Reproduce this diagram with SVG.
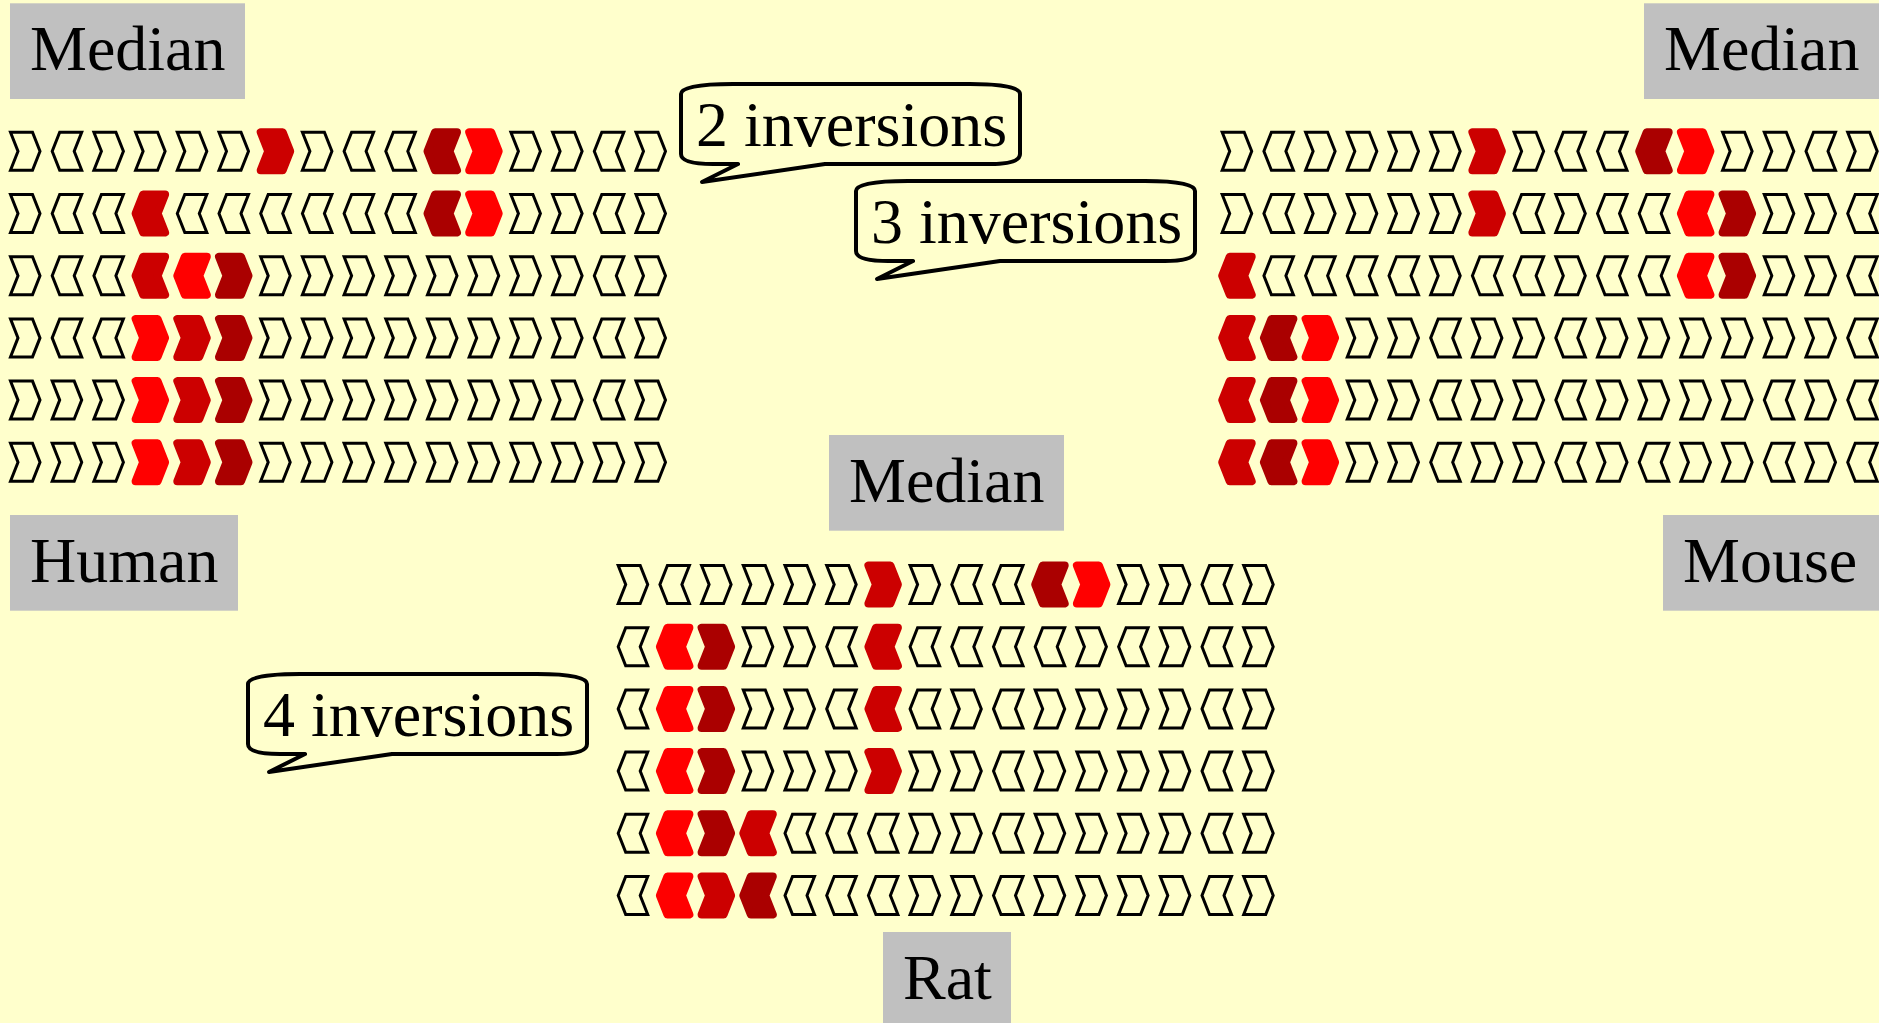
<svg xmlns="http://www.w3.org/2000/svg" xmlns:xlink="http://www.w3.org/1999/xlink" width="1879" height="1023" viewBox="0 0 1879 1023">
<style>
.o{fill:none;stroke:#000;stroke-width:3;stroke-linejoin:miter}
.r{fill:#FF0000;stroke:#FF0000;stroke-width:8;stroke-linejoin:round}
.m{fill:#CC0000;stroke:#CC0000;stroke-width:8;stroke-linejoin:round}
.d{fill:#AA0000;stroke:#AA0000;stroke-width:8;stroke-linejoin:round}
.box{fill:#C0C0C0}
.lbl{font-family:"Liberation Serif","Times New Roman",serif;font-size:64px;fill:#000}
.bub{fill:#FFFFCC;stroke:#000;stroke-width:4;stroke-linejoin:round}
</style>
<defs>
<path id="R" d="M1.5,-19H23.5L31,0L23.5,19H1.5L9,0Z"/>
<path id="L" d="M1.5,0L9,-19H31L23.5,0L31,19H9Z"/>
<path id="bubble" d="M52,0H289Q339,0 339,10V70Q339,80 309,80H144L21,98L57,80H32Q0,80 0,70V10Q0,0 52,0Z"/>
</defs>
<rect width="1879" height="1023" fill="#FFFFCC"/>

<g id="human-block" transform="translate(9,151.3)">
<g transform="translate(0,0)">
<use href="#R" x="0" class="o"/><use href="#L" x="41.7" class="o"/><use href="#R" x="83.4" class="o"/><use href="#R" x="125.1" class="o"/><use href="#R" x="166.8" class="o"/><use href="#R" x="208.5" class="o"/><use href="#R" x="250.2" class="m"/><use href="#R" x="291.9" class="o"/><use href="#L" x="333.6" class="o"/><use href="#L" x="375.3" class="o"/><use href="#L" x="417" class="d"/><use href="#R" x="458.7" class="r"/><use href="#R" x="500.4" class="o"/><use href="#R" x="542.1" class="o"/><use href="#L" x="583.8" class="o"/><use href="#R" x="625.5" class="o"/>
</g>
<g transform="translate(0,62.2)">
<use href="#R" x="0" class="o"/><use href="#L" x="41.7" class="o"/><use href="#L" x="83.4" class="o"/><use href="#L" x="125.1" class="m"/><use href="#L" x="166.8" class="o"/><use href="#L" x="208.5" class="o"/><use href="#L" x="250.2" class="o"/><use href="#L" x="291.9" class="o"/><use href="#L" x="333.6" class="o"/><use href="#L" x="375.3" class="o"/><use href="#L" x="417" class="d"/><use href="#R" x="458.7" class="r"/><use href="#R" x="500.4" class="o"/><use href="#R" x="542.1" class="o"/><use href="#L" x="583.8" class="o"/><use href="#R" x="625.5" class="o"/>
</g>
<g transform="translate(0,124.4)">
<use href="#R" x="0" class="o"/><use href="#L" x="41.7" class="o"/><use href="#L" x="83.4" class="o"/><use href="#L" x="125.1" class="m"/><use href="#L" x="166.8" class="r"/><use href="#R" x="208.5" class="d"/><use href="#R" x="250.2" class="o"/><use href="#R" x="291.9" class="o"/><use href="#R" x="333.6" class="o"/><use href="#R" x="375.3" class="o"/><use href="#R" x="417" class="o"/><use href="#R" x="458.7" class="o"/><use href="#R" x="500.4" class="o"/><use href="#R" x="542.1" class="o"/><use href="#L" x="583.8" class="o"/><use href="#R" x="625.5" class="o"/>
</g>
<g transform="translate(0,186.6)">
<use href="#R" x="0" class="o"/><use href="#L" x="41.7" class="o"/><use href="#L" x="83.4" class="o"/><use href="#R" x="125.1" class="r"/><use href="#R" x="166.8" class="m"/><use href="#R" x="208.5" class="d"/><use href="#R" x="250.2" class="o"/><use href="#R" x="291.9" class="o"/><use href="#R" x="333.6" class="o"/><use href="#R" x="375.3" class="o"/><use href="#R" x="417" class="o"/><use href="#R" x="458.7" class="o"/><use href="#R" x="500.4" class="o"/><use href="#R" x="542.1" class="o"/><use href="#L" x="583.8" class="o"/><use href="#R" x="625.5" class="o"/>
</g>
<g transform="translate(0,248.8)">
<use href="#R" x="0" class="o"/><use href="#R" x="41.7" class="o"/><use href="#R" x="83.4" class="o"/><use href="#R" x="125.1" class="r"/><use href="#R" x="166.8" class="m"/><use href="#R" x="208.5" class="d"/><use href="#R" x="250.2" class="o"/><use href="#R" x="291.9" class="o"/><use href="#R" x="333.6" class="o"/><use href="#R" x="375.3" class="o"/><use href="#R" x="417" class="o"/><use href="#R" x="458.7" class="o"/><use href="#R" x="500.4" class="o"/><use href="#R" x="542.1" class="o"/><use href="#L" x="583.8" class="o"/><use href="#R" x="625.5" class="o"/>
</g>
<g transform="translate(0,311)">
<use href="#R" x="0" class="o"/><use href="#R" x="41.7" class="o"/><use href="#R" x="83.4" class="o"/><use href="#R" x="125.1" class="r"/><use href="#R" x="166.8" class="m"/><use href="#R" x="208.5" class="d"/><use href="#R" x="250.2" class="o"/><use href="#R" x="291.9" class="o"/><use href="#R" x="333.6" class="o"/><use href="#R" x="375.3" class="o"/><use href="#R" x="417" class="o"/><use href="#R" x="458.7" class="o"/><use href="#R" x="500.4" class="o"/><use href="#R" x="542.1" class="o"/><use href="#R" x="583.8" class="o"/><use href="#R" x="625.5" class="o"/>
</g>
</g>

<g id="mouse-block" transform="translate(1220.7,151.3)">
<g transform="translate(0,0)">
<use href="#R" x="0" class="o"/><use href="#L" x="41.7" class="o"/><use href="#R" x="83.4" class="o"/><use href="#R" x="125.1" class="o"/><use href="#R" x="166.8" class="o"/><use href="#R" x="208.5" class="o"/><use href="#R" x="250.2" class="m"/><use href="#R" x="291.9" class="o"/><use href="#L" x="333.6" class="o"/><use href="#L" x="375.3" class="o"/><use href="#L" x="417" class="d"/><use href="#R" x="458.7" class="r"/><use href="#R" x="500.4" class="o"/><use href="#R" x="542.1" class="o"/><use href="#L" x="583.8" class="o"/><use href="#R" x="625.5" class="o"/>
</g>
<g transform="translate(0,62.2)">
<use href="#R" x="0" class="o"/><use href="#L" x="41.7" class="o"/><use href="#R" x="83.4" class="o"/><use href="#R" x="125.1" class="o"/><use href="#R" x="166.8" class="o"/><use href="#R" x="208.5" class="o"/><use href="#R" x="250.2" class="m"/><use href="#L" x="291.9" class="o"/><use href="#R" x="333.6" class="o"/><use href="#L" x="375.3" class="o"/><use href="#L" x="417" class="o"/><use href="#L" x="458.7" class="r"/><use href="#R" x="500.4" class="d"/><use href="#R" x="542.1" class="o"/><use href="#R" x="583.8" class="o"/><use href="#L" x="625.5" class="o"/>
</g>
<g transform="translate(0,124.4)">
<use href="#L" x="0" class="m"/><use href="#L" x="41.7" class="o"/><use href="#L" x="83.4" class="o"/><use href="#L" x="125.1" class="o"/><use href="#L" x="166.8" class="o"/><use href="#R" x="208.5" class="o"/><use href="#L" x="250.2" class="o"/><use href="#L" x="291.9" class="o"/><use href="#R" x="333.6" class="o"/><use href="#L" x="375.3" class="o"/><use href="#L" x="417" class="o"/><use href="#L" x="458.7" class="r"/><use href="#R" x="500.4" class="d"/><use href="#R" x="542.1" class="o"/><use href="#R" x="583.8" class="o"/><use href="#L" x="625.5" class="o"/>
</g>
<g transform="translate(0,186.6)">
<use href="#L" x="0" class="m"/><use href="#L" x="41.7" class="d"/><use href="#R" x="83.4" class="r"/><use href="#R" x="125.1" class="o"/><use href="#R" x="166.8" class="o"/><use href="#L" x="208.5" class="o"/><use href="#R" x="250.2" class="o"/><use href="#R" x="291.9" class="o"/><use href="#L" x="333.6" class="o"/><use href="#R" x="375.3" class="o"/><use href="#R" x="417" class="o"/><use href="#R" x="458.7" class="o"/><use href="#R" x="500.4" class="o"/><use href="#R" x="542.1" class="o"/><use href="#R" x="583.8" class="o"/><use href="#L" x="625.5" class="o"/>
</g>
<g transform="translate(0,248.8)">
<use href="#L" x="0" class="m"/><use href="#L" x="41.7" class="d"/><use href="#R" x="83.4" class="r"/><use href="#R" x="125.1" class="o"/><use href="#R" x="166.8" class="o"/><use href="#L" x="208.5" class="o"/><use href="#R" x="250.2" class="o"/><use href="#R" x="291.9" class="o"/><use href="#L" x="333.6" class="o"/><use href="#R" x="375.3" class="o"/><use href="#R" x="417" class="o"/><use href="#R" x="458.7" class="o"/><use href="#R" x="500.4" class="o"/><use href="#L" x="542.1" class="o"/><use href="#R" x="583.8" class="o"/><use href="#L" x="625.5" class="o"/>
</g>
<g transform="translate(0,311)">
<use href="#L" x="0" class="m"/><use href="#L" x="41.7" class="d"/><use href="#R" x="83.4" class="r"/><use href="#R" x="125.1" class="o"/><use href="#R" x="166.8" class="o"/><use href="#L" x="208.5" class="o"/><use href="#R" x="250.2" class="o"/><use href="#R" x="291.9" class="o"/><use href="#L" x="333.6" class="o"/><use href="#R" x="375.3" class="o"/><use href="#L" x="417" class="o"/><use href="#R" x="458.7" class="o"/><use href="#R" x="500.4" class="o"/><use href="#L" x="542.1" class="o"/><use href="#R" x="583.8" class="o"/><use href="#L" x="625.5" class="o"/>
</g>
</g>

<g id="rat-block" transform="translate(616.7,584.5)">
<g transform="translate(0,0)">
<use href="#R" x="0" class="o"/><use href="#L" x="41.7" class="o"/><use href="#R" x="83.4" class="o"/><use href="#R" x="125.1" class="o"/><use href="#R" x="166.8" class="o"/><use href="#R" x="208.5" class="o"/><use href="#R" x="250.2" class="m"/><use href="#R" x="291.9" class="o"/><use href="#L" x="333.6" class="o"/><use href="#L" x="375.3" class="o"/><use href="#L" x="417" class="d"/><use href="#R" x="458.7" class="r"/><use href="#R" x="500.4" class="o"/><use href="#R" x="542.1" class="o"/><use href="#L" x="583.8" class="o"/><use href="#R" x="625.5" class="o"/>
</g>
<g transform="translate(0,62.2)">
<use href="#L" x="0" class="o"/><use href="#L" x="41.7" class="r"/><use href="#R" x="83.4" class="d"/><use href="#R" x="125.1" class="o"/><use href="#R" x="166.8" class="o"/><use href="#L" x="208.5" class="o"/><use href="#L" x="250.2" class="m"/><use href="#L" x="291.9" class="o"/><use href="#L" x="333.6" class="o"/><use href="#L" x="375.3" class="o"/><use href="#L" x="417" class="o"/><use href="#R" x="458.7" class="o"/><use href="#L" x="500.4" class="o"/><use href="#R" x="542.1" class="o"/><use href="#L" x="583.8" class="o"/><use href="#R" x="625.5" class="o"/>
</g>
<g transform="translate(0,124.4)">
<use href="#L" x="0" class="o"/><use href="#L" x="41.7" class="r"/><use href="#R" x="83.4" class="d"/><use href="#R" x="125.1" class="o"/><use href="#R" x="166.8" class="o"/><use href="#L" x="208.5" class="o"/><use href="#L" x="250.2" class="m"/><use href="#L" x="291.9" class="o"/><use href="#R" x="333.6" class="o"/><use href="#L" x="375.3" class="o"/><use href="#R" x="417" class="o"/><use href="#R" x="458.7" class="o"/><use href="#R" x="500.4" class="o"/><use href="#R" x="542.1" class="o"/><use href="#L" x="583.8" class="o"/><use href="#R" x="625.5" class="o"/>
</g>
<g transform="translate(0,186.6)">
<use href="#L" x="0" class="o"/><use href="#L" x="41.7" class="r"/><use href="#R" x="83.4" class="d"/><use href="#R" x="125.1" class="o"/><use href="#R" x="166.8" class="o"/><use href="#R" x="208.5" class="o"/><use href="#R" x="250.2" class="m"/><use href="#R" x="291.9" class="o"/><use href="#R" x="333.6" class="o"/><use href="#L" x="375.3" class="o"/><use href="#R" x="417" class="o"/><use href="#R" x="458.7" class="o"/><use href="#R" x="500.4" class="o"/><use href="#R" x="542.1" class="o"/><use href="#L" x="583.8" class="o"/><use href="#R" x="625.5" class="o"/>
</g>
<g transform="translate(0,248.8)">
<use href="#L" x="0" class="o"/><use href="#L" x="41.7" class="r"/><use href="#R" x="83.4" class="d"/><use href="#L" x="125.1" class="m"/><use href="#L" x="166.8" class="o"/><use href="#L" x="208.5" class="o"/><use href="#L" x="250.2" class="o"/><use href="#R" x="291.9" class="o"/><use href="#R" x="333.6" class="o"/><use href="#L" x="375.3" class="o"/><use href="#R" x="417" class="o"/><use href="#R" x="458.7" class="o"/><use href="#R" x="500.4" class="o"/><use href="#R" x="542.1" class="o"/><use href="#L" x="583.8" class="o"/><use href="#R" x="625.5" class="o"/>
</g>
<g transform="translate(0,311)">
<use href="#L" x="0" class="o"/><use href="#L" x="41.7" class="r"/><use href="#R" x="83.4" class="m"/><use href="#L" x="125.1" class="d"/><use href="#L" x="166.8" class="o"/><use href="#L" x="208.5" class="o"/><use href="#L" x="250.2" class="o"/><use href="#R" x="291.9" class="o"/><use href="#R" x="333.6" class="o"/><use href="#L" x="375.3" class="o"/><use href="#R" x="417" class="o"/><use href="#R" x="458.7" class="o"/><use href="#R" x="500.4" class="o"/><use href="#R" x="542.1" class="o"/><use href="#L" x="583.8" class="o"/><use href="#R" x="625.5" class="o"/>
</g>
</g>

<g id="label-median-human">
<rect class="box" x="10" y="3.3" width="235" height="95.7"/>
<text class="lbl" x="30" y="70">Median</text>
</g>
<g id="label-median-mouse">
<rect class="box" x="1644" y="3.3" width="235" height="95.7"/>
<text class="lbl" x="1664" y="70">Median</text>
</g>
<g id="label-median-rat">
<rect class="box" x="829" y="435" width="235" height="95.7"/>
<text class="lbl" x="849" y="501.7">Median</text>
</g>
<g id="label-human">
<rect class="box" x="10" y="515" width="228" height="95.7"/>
<text class="lbl" x="30" y="581.7">Human</text>
</g>
<g id="label-mouse">
<rect class="box" x="1663" y="515" width="216" height="95.7"/>
<text class="lbl" x="1683" y="581.7">Mouse</text>
</g>
<g id="label-rat">
<rect class="box" x="883" y="932" width="128" height="95.7"/>
<text class="lbl" x="903" y="998.7">Rat</text>
</g>

<g id="bubble-2-inversions" transform="translate(681,84)">
<use href="#bubble" class="bub"/>
<text class="lbl" x="15" y="62">2 inversions</text>
</g>
<g id="bubble-3-inversions" transform="translate(856,181)">
<use href="#bubble" class="bub"/>
<text class="lbl" x="15" y="62">3 inversions</text>
</g>
<g id="bubble-4-inversions" transform="translate(248,674)">
<use href="#bubble" class="bub"/>
<text class="lbl" x="15" y="62">4 inversions</text>
</g>

<g id="connectors"/>
</svg>
